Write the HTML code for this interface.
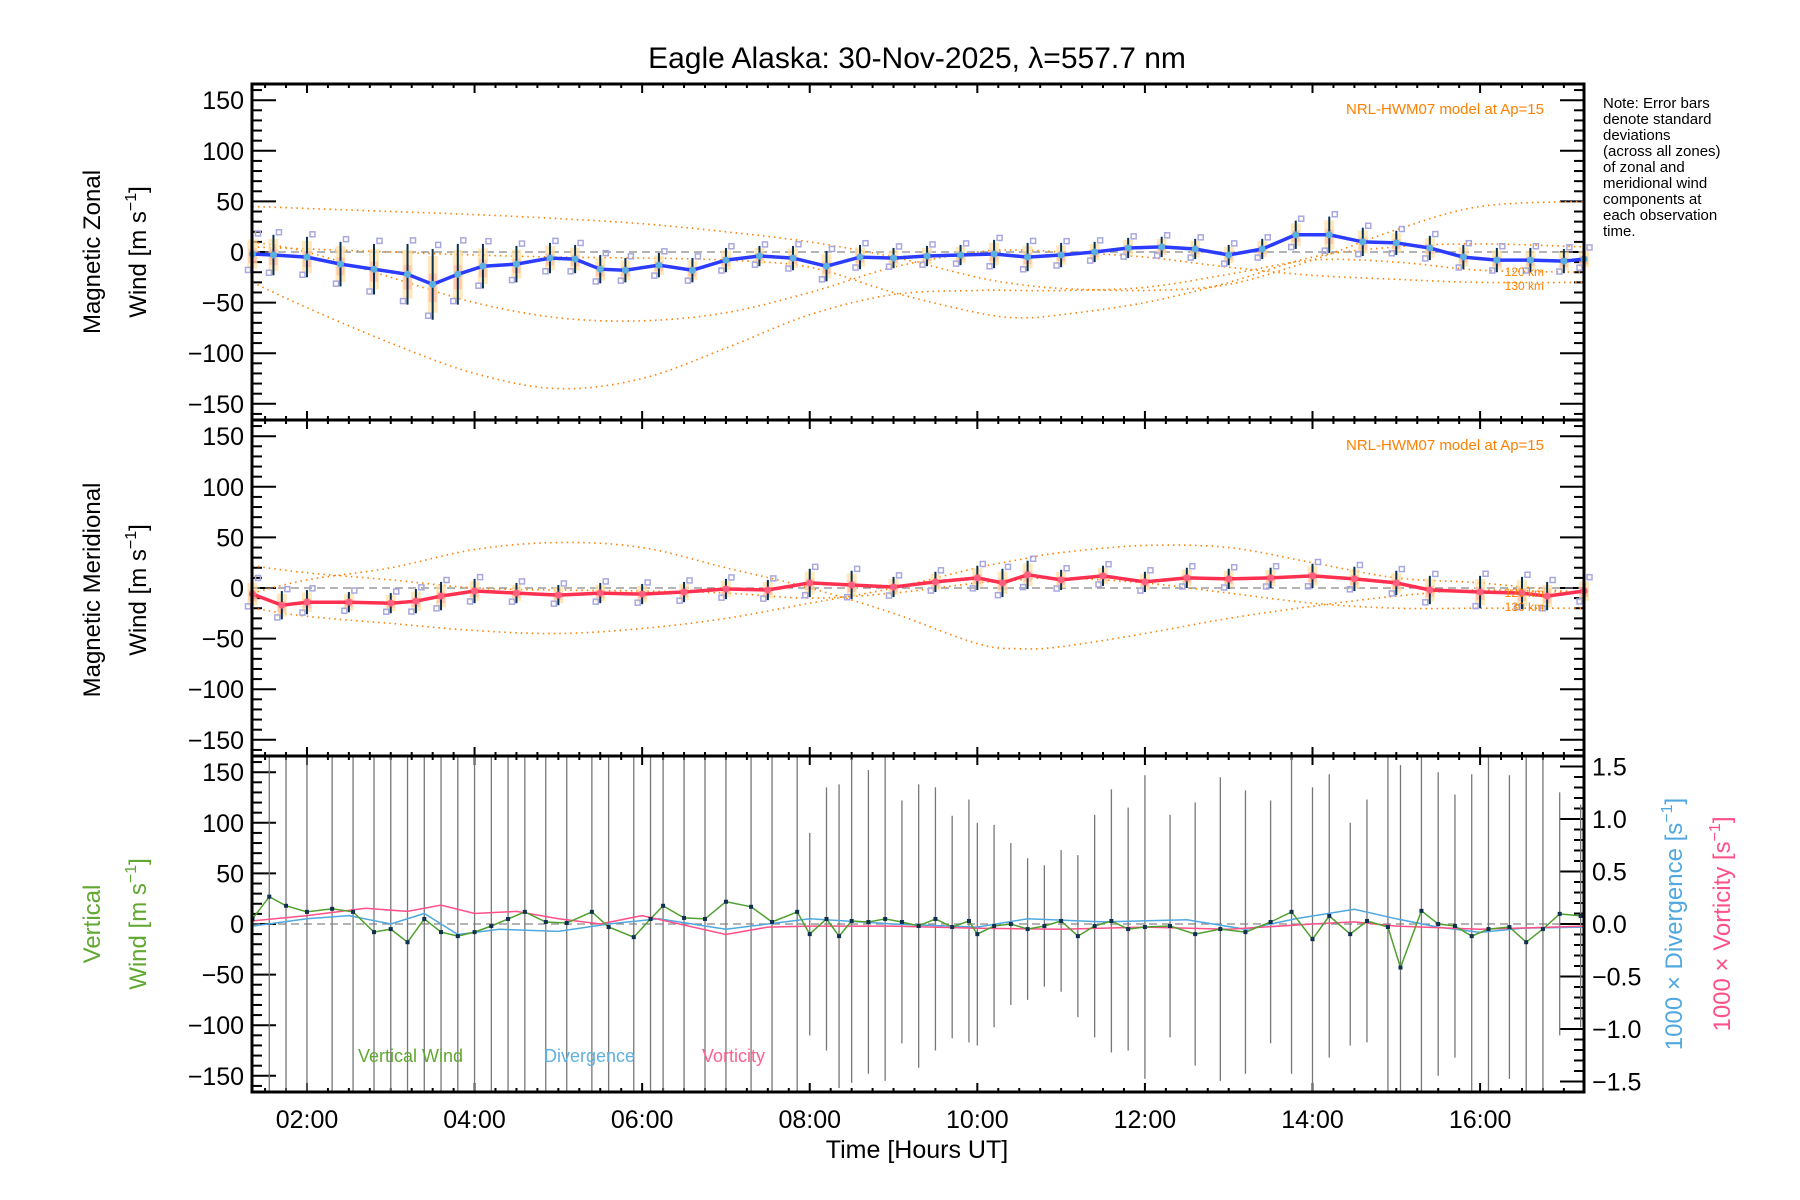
<!DOCTYPE html>
<html><head><meta charset="utf-8"><style>
html,body{margin:0;padding:0;background:#fff;}
svg{display:block;font-family:"Liberation Sans",sans-serif;}
</style></head><body>
<svg id="chart" width="1800" height="1200" viewBox="0 0 1800 1200" xmlns="http://www.w3.org/2000/svg">
<text x="917" y="68" font-size="30" text-anchor="middle">Eagle Alaska: 30-Nov-2025, λ=557.7 nm</text>
<g font-size="15" fill="#000">
<text x="1603" y="108">Note: Error bars</text>
<text x="1603" y="124">denote standard</text>
<text x="1603" y="140">deviations</text>
<text x="1603" y="156">(across all zones)</text>
<text x="1603" y="172">of zonal and</text>
<text x="1603" y="188">meridional wind</text>
<text x="1603" y="204">components at</text>
<text x="1603" y="220">each observation</text>
<text x="1603" y="236">time.</text>
</g>
<g id="plots"></g>
</svg>
<script>
// ---- data ----
const zonT = [1.35,1.6,2.0,2.4,2.8,3.2,3.5,3.8,4.1,4.5,4.9,5.2,5.5,5.8,6.2,6.6,7.0,7.4,7.8,8.2,8.6,9.0,9.4,9.8,10.2,10.6,11.0,11.4,11.8,12.2,12.6,13.0,13.4,13.8,14.2,14.6,15.0,15.4,15.8,16.2,16.6,17.0,17.24];
const zonV = [-2,-3,-5,-12,-17,-22,-32,-22,-14,-12,-6,-7,-17,-18,-13,-18,-8,-4,-6,-14,-5,-6,-4,-3,-2,-5,-3,0,4,5,3,-3,3,17,17,10,9,4,-5,-8,-8,-9,-7];
const zonSd = [18,20,20,22,25,30,35,30,22,18,15,14,14,12,12,12,12,10,12,15,12,10,10,10,14,14,12,10,10,10,10,10,10,14,18,14,12,12,12,12,12,12,10];
const merT = [1.35,1.7,2.0,2.5,3.0,3.3,3.6,4.0,4.5,5.0,5.5,6.0,6.5,7.0,7.5,8.0,8.5,9.0,9.5,10.0,10.3,10.6,11.0,11.5,12.0,12.5,13.0,13.5,14.0,14.5,15.0,15.4,16.0,16.5,16.8,17.24];
const merV = [-6,-17,-14,-14,-15,-13,-8,-3,-5,-7,-5,-6,-4,-1,-2,5,3,1,6,10,5,13,8,12,6,10,9,10,12,9,5,-2,-4,-5,-8,-3];
const merSd = [14,14,12,10,10,12,14,12,10,10,10,10,10,10,10,14,14,10,10,12,14,14,10,10,10,10,10,10,12,12,12,14,16,16,14,12];
const modT = [1.35,2,3,4,5,6,7,8,9,10,10.5,11,12,13,14,15,16,17.24];
const modZ1 = [45,43,40,37,33,28,20,10,-5,-25,-32,-36,-38,-32,-8,22,45,50];
const modZ2 = [-30,-55,-90,-120,-135,-125,-95,-62,-42,-38,-38,-38,-35,-22,-8,-10,-18,-20];
const modZ3 = [10,0,-25,-50,-65,-68,-60,-40,-15,0,2,0,-5,-15,-23,-27,-30,-30];
const modZ4 = [5,3,0,-3,-5,-6,-8,-15,-40,-60,-65,-62,-50,-30,-5,5,8,5];
const modM1 = [-5,8,20,38,45,40,20,0,-25,-55,-60,-58,-45,-30,-18,-8,-2,-5];
const modM2 = [-20,-28,-35,-42,-45,-40,-30,-15,0,20,28,35,42,40,25,10,5,-5];
const modM3 = [22,15,8,0,-2,-3,-5,-10,-5,5,8,10,5,-5,-15,-20,-20,-20];
const vT = [1.35,1.55,1.75,2.0,2.3,2.55,2.8,3.0,3.2,3.4,3.6,3.8,4.0,4.2,4.4,4.6,4.85,5.1,5.4,5.6,5.9,6.1,6.25,6.5,6.75,7.0,7.3,7.55,7.85,8.0,8.2,8.35,8.5,8.7,8.9,9.1,9.3,9.5,9.7,9.9,10.0,10.2,10.4,10.6,10.8,11.0,11.2,11.4,11.6,11.8,12.0,12.3,12.6,12.9,13.2,13.5,13.75,14.0,14.2,14.45,14.65,14.9,15.05,15.3,15.5,15.7,15.9,16.1,16.35,16.55,16.75,16.95,17.2];
const vV = [5,27,18,12,15,12,-8,-5,-18,5,-8,-12,-8,-2,5,12,2,1,12,-3,-13,5,18,6,5,22,17,2,12,-10,5,-12,3,2,5,2,-2,5,-3,3,-10,-2,0,-5,-2,3,-12,-2,3,-5,-3,-2,-10,-5,-8,2,12,-15,8,-10,3,-3,-43,13,0,-2,-12,-5,-3,-18,-5,10,8];
const vErr = [200,200,200,200,200,200,200,200,200,200,200,200,200,200,200,200,200,200,200,200,200,200,200,200,200,200,200,200,200,100,130,150,160,150,160,120,140,130,110,120,110,100,80,70,60,70,80,110,130,120,150,110,130,150,140,120,160,150,140,110,120,170,200,200,150,130,160,170,150,200,170,120,110];
const dT = [1.35,2,2.5,3,3.4,3.8,4.3,5,5.6,6.2,7,8,9,10,10.6,11.5,12.5,13.2,13.8,14.5,15,15.5,16,16.5,17.24];
const dV = [-0.02,0.05,0.08,0.0,0.1,-0.1,-0.05,-0.07,0.0,0.05,-0.05,0.05,0.0,-0.03,0.05,0.02,0.04,-0.05,0.05,0.14,0.05,-0.03,-0.08,-0.04,-0.03];
const wT = [1.35,2,2.7,3.2,3.6,4,4.5,5,5.5,6,7,7.5,8,9,10,11,12,13,14,14.5,15,16,17.24];
const wV = [0.03,0.08,0.15,0.12,0.18,0.1,0.12,0.05,0.0,0.08,-0.1,-0.03,-0.02,-0.02,-0.04,-0.05,-0.03,-0.05,0.0,0.02,-0.02,-0.05,-0.02];
const yTicks = [-150,-100,-50,0,50,100,150];
const rTicks = [-1.5,-1.0,-0.5,0.0,0.5,1.0,1.5];
const xTicks = [2,4,6,8,10,12,14,16];

// ---- geometry ----
const NS='http://www.w3.org/2000/svg';
const L=252,R=1584,T0=84,PH=336,XMIN=1.344,XMAX=17.24,YMIN=-166,YMAX=166;
const plots=document.getElementById('plots');
function X(h){return L+(h-XMIN)/(XMAX-XMIN)*(R-L);}
function mkY(i){const top=T0+i*PH;return v=>top+(YMAX-v)/(YMAX-YMIN)*PH;}
function el(tag,attrs,parent){const e=document.createElementNS(NS,tag);for(const k in attrs)e.setAttribute(k,attrs[k]);(parent||plots).appendChild(e);return e;}
function pts(ts,vs,Y){return ts.map((t,i)=>X(t).toFixed(1)+','+Y(vs[i]).toFixed(1)).join(' ');}
function smoothPath(ts,vs,Y){
  const p=ts.map((t,i)=>[X(t),Y(vs[i])]);
  let d='M'+p[0][0].toFixed(1)+','+p[0][1].toFixed(1);
  for(let i=0;i<p.length-1;i++){
    const p0=p[Math.max(0,i-1)],p1=p[i],p2=p[i+1],p3=p[Math.min(p.length-1,i+2)];
    const c1=[p1[0]+(p2[0]-p0[0])/6,p1[1]+(p2[1]-p0[1])/6],c2=[p2[0]-(p3[0]-p1[0])/6,p2[1]-(p3[1]-p1[1])/6];
    d+=' C'+c1.map(v=>v.toFixed(1)).join(',')+' '+c2.map(v=>v.toFixed(1)).join(',')+' '+p2[0].toFixed(1)+','+p2[1].toFixed(1);
  }
  return d;
}

function frame(i,g){
  const top=T0+i*PH,bot=top+PH,Y=mkY(i);
  for(let v=-160;v<=160;v+=10){
    const y=Y(v),maj=v%50===0,len=maj?24:10;
    el('line',{x1:L,x2:L+len,y1:y,y2:y,stroke:'#000','stroke-width':2},g);
    if(i<2) el('line',{x1:R,x2:R-len,y1:y,y2:y,stroke:'#000','stroke-width':2},g);
  }
  for(let h=1.5;h<=17.24;h+=0.25){
    const x=X(h),maj=Math.abs(h-Math.round(h/2)*2)<1e-6,len=maj?9:4;
    el('line',{x1:x,x2:x,y1:bot,y2:bot-len,stroke:'#000','stroke-width':2},g);
    el('line',{x1:x,x2:x,y1:top,y2:top+len,stroke:'#000','stroke-width':2},g);
  }
  yTicks.forEach(v=>{const t=el('text',{x:L-8,y:Y(v)+9,'font-size':25,'text-anchor':'end'},g);t.textContent=(v<0?'\u2212'+(-v):v);});
  el('line',{x1:L,x2:R,y1:Y(0),y2:Y(0),stroke:'#888','stroke-width':1.2,'stroke-dasharray':'8,5'},g);
}
function frameBorder(g){el('rect',{x:L,y:T0,width:R-L,height:3*PH,fill:'none',stroke:'#000','stroke-width':3},g);
  el('line',{x1:L,x2:R,y1:T0+PH,y2:T0+PH,stroke:'#000','stroke-width':3},g);
  el('line',{x1:L,x2:R,y1:T0+2*PH,y2:T0+2*PH,stroke:'#000','stroke-width':3},g);}

function modelLine(ts,vs,Y,g,name){const p=el('path',{d:smoothPath(ts,vs,Y),fill:'none',stroke:'#ff8000','stroke-width':1.6,'stroke-dasharray':'1.5,4'},g);}

function windPanel(i,T,V,S,mods,color,name){
  const g=el('g',{});
  const Y=mkY(i);
  frame(i,g);
  mods.forEach((m,k)=>modelLine(modT,m,Y,g,'model-curve-'+(k+1)));
  T.forEach((t,k)=>{const x=X(t);
    el('rect',{x:x-5,y:Y(V[k]+S[k]*0.8),width:10,height:Y(V[k]-S[k]*0.8)-Y(V[k]+S[k]*0.8),fill:'#ffe0a0',opacity:0.7},g);
    el('rect',{x:x-4,y:Y(V[k]+S[k]*0.3),width:8,height:Y(V[k]-S[k]*0.5)-Y(V[k]+S[k]*0.3),fill:'#ffb0a0',opacity:0.6},g);
    el('rect',{x:x+3,y:Y(V[k]+S[k]*1.1)-3,width:5,height:5,fill:'none',stroke:'#a8a8e0','stroke-width':1.5},g);
    el('rect',{x:x-7,y:Y(V[k]-S[k]*0.9)-3,width:5,height:5,fill:'none',stroke:'#a8a8e0','stroke-width':1.5},g);
    const b=el('line',{x1:x,x2:x,y1:Y(V[k]+S[k]),y2:Y(V[k]-S[k]),stroke:'#0a3050','stroke-width':2},g);
    
  });
  const ln=el('polyline',{points:pts(T,V,Y),fill:'none',stroke:color,'stroke-width':3.5},g);
  
  T.forEach((t,k)=>{el('circle',{cx:X(t),cy:Y(V[k]),r:3.5,fill:i===0?'#5ab0e0':'#ff6080'},g);});
  const n=el('text',{x:1544,y:T0+i*PH+30,'font-size':15,fill:'#ff8000','text-anchor':'end'},g);n.textContent='NRL-HWM07 model at Ap=15';
  
  const k1=el('text',{x:1544,y:Y(mods[1][mods[1].length-1])+4,'font-size':12,fill:'#ff8000','text-anchor':'end'},g);k1.textContent='120 km';
  const k2=el('text',{x:1544,y:Y(mods[1][mods[1].length-1])+18,'font-size':12,fill:'#ff8000','text-anchor':'end'},g);k2.textContent='130 km';
}
windPanel(0,zonT,zonV,zonSd,[modZ1,modZ2,modZ3,modZ4],'#2b3cff','zonal-panel');
windPanel(1,merT,merV,merSd,[modM1,modM2,modM3],'#ff3050','meridional-panel');

// panel 3
const g3=el('g',{});
const Y3=mkY(2),top3=T0+2*PH,bot3=top3+PH;
frame(2,g3);
const RZ=Y3(0),RS=105;function YR(v){return RZ-v*RS;}
for(let v=-1.5;v<=1.501;v+=0.1){const y=YR(v),maj=Math.abs(v*2-Math.round(v*2))<1e-6;const len=maj?24:10;el('line',{x1:R,x2:R-len,y1:y,y2:y,stroke:'#000','stroke-width':2},g3);}
rTicks.forEach(v=>{const t=el('text',{x:R+8,y:YR(v)+9,'font-size':25},g3);t.textContent=(v<0?'\u2212':'')+Math.abs(v).toFixed(1);});
vT.forEach((t,k)=>{const x=X(t);const b=el('line',{x1:x,x2:x,y1:Math.max(top3,Y3(vV[k]+vErr[k])),y2:Math.min(bot3,Y3(vV[k]-vErr[k])),stroke:'#777','stroke-width':1.3},g3);
  });
const dl=el('polyline',{points:pts(dT,dV,YR),fill:'none',stroke:'#50a8e0','stroke-width':1.5},g3);

const wl=el('polyline',{points:pts(wT,wV,YR),fill:'none',stroke:'#ff5088','stroke-width':1.5},g3);

const vl=el('polyline',{points:pts(vT,vV,Y3),fill:'none',stroke:'#50a030','stroke-width':1.5},g3);

vT.forEach((t,k)=>{el('rect',{x:X(t)-2,y:Y3(vV[k])-2,width:4,height:4,fill:'#103050'},g3);});
[['Vertical Wind',358,'#60a830'],['Divergence',544,'#60b0e0'],['Vorticity',702,'#ff6090']].forEach(a=>{const t=el('text',{x:a[1],y:1062,'font-size':18,fill:a[2]},g3);t.textContent=a[0];
  });

const gb=el('g',{});frameBorder(gb);
xTicks.forEach(h=>{const t=el('text',{x:X(h),y:1128,'font-size':25,'text-anchor':'middle'});t.textContent=(h<10?'0':'')+h+':00';
  });
const xt=el('text',{x:917,y:1158,'font-size':25,'text-anchor':'middle'});xt.textContent='Time [Hours UT]';


function rotTitle(x,cy,lines,color,name){const t=el('text',{transform:`translate(${x},${cy}) rotate(-90)`,'font-size':24,'text-anchor':'middle',fill:color});
  
  lines.forEach((ln,k)=>{const s=el('tspan',{x:0,dy:k===0?0:46},t);s.innerHTML=ln;});}
const sup='[m s<tspan dy="-10" font-size="16">\u22121</tspan><tspan dy="10">]</tspan>';
rotTitle(100,252,['Magnetic Zonal','Wind '+sup],'#000','zonal-y-title');
rotTitle(100,590,['Magnetic Meridional','Wind '+sup],'#000','meridional-y-title');
rotTitle(100,924,['Vertical','Wind '+sup],'#60a830','vertical-y-title');
rotTitle(1682,924,['1000 \u00d7 Divergence [s<tspan dy="-10" font-size="16">\u22121</tspan><tspan dy="10">]</tspan>'],'#50a8e0','divergence-y-title');
rotTitle(1730,924,['1000 \u00d7 Vorticity [s<tspan dy="-10" font-size="16">\u22121</tspan><tspan dy="10">]</tspan>'],'#ff5088','vorticity-y-title');
</script>
</body></html>
